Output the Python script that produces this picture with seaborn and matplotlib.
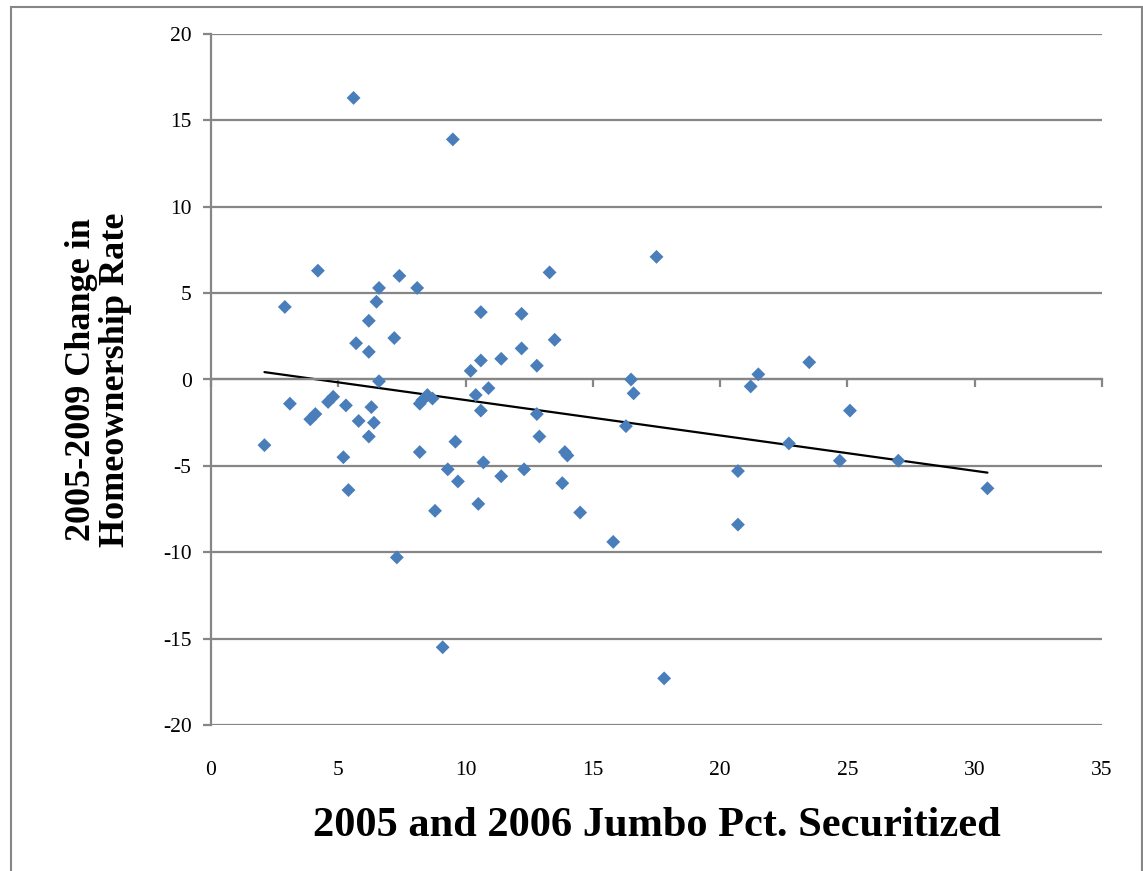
import matplotlib
matplotlib.use("Agg")
import matplotlib.pyplot as plt
import matplotlib.patches as mpatches
import seaborn as sns
import pandas as pd

jumbo_pct_securitized = [
    2.1, 2.9, 3.1, 4.2, 3.9, 4.1, 4.6, 4.8, 5.3, 5.2, 5.4, 5.6, 5.7, 5.8, 6.2, 6.2,
    6.3, 6.2, 6.4, 6.5, 6.6, 6.6, 7.2, 7.4, 7.3, 8.1, 8.2, 8.2, 8.3, 8.5, 8.7, 8.8,
    9.1, 9.3, 9.5, 9.6, 9.7, 10.2, 10.4, 10.6, 10.6, 10.6, 10.5, 10.7, 10.9, 11.4,
    11.4, 12.2, 12.2, 12.3, 12.8, 12.8, 12.9, 13.3, 13.5, 13.8, 13.9, 14.0, 14.5,
    15.8, 16.3, 16.5, 16.6, 17.5, 17.8, 20.7, 20.7, 21.2, 21.5, 22.7, 23.5, 24.7,
    25.1, 27.0, 30.5,
]
homeownership_change = [
    -3.8, 4.2, -1.4, 6.3, -2.3, -2.0, -1.3, -1.0, -1.5, -4.5, -6.4, 16.3, 2.1, -2.4,
    1.6, 3.4, -1.6, -3.3, -2.5, 4.5, 5.3, -0.1, 2.4, 6.0, -10.3, 5.3, -4.2, -1.4,
    -1.2, -0.9, -1.1, -7.6, -15.5, -5.2, 13.9, -3.6, -5.9, 0.5, -0.9, 3.9, 1.1, -1.8,
    -7.2, -4.8, -0.5, -5.6, 1.2, 3.8, 1.8, -5.2, 0.8, -2.0, -3.3, 6.2, 2.3, -6.0,
    -4.2, -4.4, -7.7, -9.4, -2.7, 0.0, -0.8, 7.1, -17.3, -5.3, -8.4, -0.4, 0.3, -3.7,
    1.0, -4.7, -1.8, -4.7, -6.3,
]
x_ticks = [0, 5, 10, 15, 20, 25, 30, 35]
y_ticks = [-20, -15, -10, -5, 0, 5, 10, 15, 20]
x_label = "2005 and 2006 Jumbo Pct. Securitized"
y_label = "2005-2009 Change in\nHomeownership Rate"

df = pd.DataFrame({"x": jumbo_pct_securitized, "y": homeownership_change})

sns.set_theme(style="white")
plt.rcParams["font.family"] = ["Liberation Serif", "DejaVu Serif"]
plt.rcParams["axes.unicode_minus"] = False
plt.rcParams["text.color"] = "black"
plt.rcParams["axes.labelcolor"] = "black"
plt.rcParams["xtick.labelcolor"] = "black"
plt.rcParams["ytick.labelcolor"] = "black"

GRAY = "#868686"
fig = plt.figure(figsize=(11.43, 8.71), dpi=100)
ax = fig.add_axes([211 / 1143, 1 - 725 / 871, (1102 - 211) / 1143, (725 - 34) / 871])

sns.scatterplot(data=df, x="x", y="y", marker="D", s=50, color="#4A7EBB",
                edgecolor="none", ax=ax, zorder=3)
sns.regplot(data=df, x="x", y="y", scatter=False, ci=None, truncate=True,
            line_kws={"color": "black", "lw": 1.6}, ax=ax)

ax.set_xlim(0, 35)
ax.set_ylim(-20, 20)
ax.set_yticks(y_ticks)
ax.set_xticks(x_ticks)
for t in y_ticks:
    ax.axhline(t, color=GRAY, lw=1.6, zorder=1)

for s in ["top", "right"]:
    ax.spines[s].set_visible(False)
ax.spines["left"].set_color(GRAY)
ax.spines["left"].set_linewidth(1.6)
ax.spines["bottom"].set_position(("data", 0))
ax.spines["bottom"].set_color(GRAY)
ax.spines["bottom"].set_linewidth(1.6)
ax.tick_params(axis="x", labelbottom=False, bottom=True, length=6, width=1.6,
               color=GRAY, direction="out")
ax.tick_params(axis="y", left=True, length=6, width=1.6, color=GRAY,
               direction="out", labelsize=15.5, pad=8)
ax.set_xlabel("")
ax.set_ylabel(y_label, fontsize=26, fontweight="bold", labelpad=22,
              linespacing=1.05)

secx = ax.secondary_xaxis("bottom")
secx.set_xticks(x_ticks)
secx.tick_params(length=0, labelsize=15.5, pad=26)
secx.spines["bottom"].set_visible(False)
secx.set_xlabel(x_label, fontsize=30.5, fontweight="bold", labelpad=19)

border = mpatches.Rectangle((11 / 1143, -0.05), (1142 - 11) / 1143, 1.05 - 7 / 871,
                            transform=fig.transFigure, fill=False,
                            edgecolor=GRAY, lw=1.5)
fig.patches.append(border)

fig.savefig("out.png", dpi=100)
